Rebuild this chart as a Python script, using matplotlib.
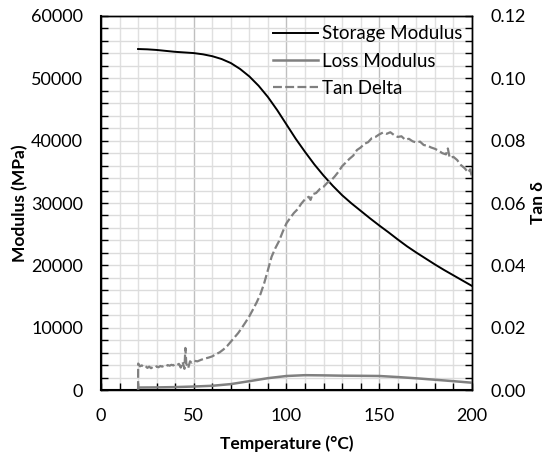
import numpy as np
import matplotlib
matplotlib.use("Agg")
import matplotlib.pyplot as plt
from matplotlib.ticker import MultipleLocator

plt.rcParams['font.family'] = ['Lato', 'DejaVu Sans']

# storage modulus (MPa)
t_storage = [20, 25, 30, 35, 40, 45, 50, 55, 60, 65, 70, 75, 80, 85, 90, 95, 100,
             105, 110, 115, 120, 125, 130, 135, 140, 145, 150, 155, 160, 165, 170,
             175, 180, 185, 190, 195, 200]
storage = [54700, 54650, 54550, 54400, 54250, 54150, 54050, 53850, 53550, 53100,
           52450, 51500, 50300, 48800, 47000, 44900, 42600, 40300, 38200, 36200,
           34400, 32750, 31250, 29950, 28750, 27550, 26400, 25300, 24150, 23050,
           22050, 21100, 20150, 19250, 18400, 17550, 16700]

# loss modulus (MPa)
t_loss = [20, 20.1, 30, 40, 50, 60, 70, 80, 90, 100, 110, 120, 130, 140, 150,
          160, 170, 180, 190, 200]
loss = [0, 400, 420, 470, 560, 680, 950, 1420, 1900, 2250, 2380, 2350, 2300,
        2280, 2250, 2080, 1880, 1650, 1420, 1170]

# tan delta
t_tan = [20, 20.05, 21, 22, 23, 24, 25, 26, 27, 28, 29, 30, 31, 32, 33, 34, 35,
         36, 37, 38, 39, 40, 41, 42, 43, 44, 45, 45.5, 46, 47, 48, 49, 50, 52, 54,
         56, 58, 60, 62, 64, 66, 68, 70, 72, 74, 76, 78, 80, 82, 84, 86, 88, 90,
         92, 94, 96, 98, 100, 102, 104, 106, 108, 110, 112, 113, 114, 116, 118,
         120, 122, 124, 126, 128, 130, 132, 134, 136, 138, 140, 142, 144, 146,
         148, 150, 152, 154, 156, 158, 160, 162, 164, 166, 168, 170, 172, 174,
         176, 178, 180, 182, 184, 186, 187, 188, 190, 192, 194, 196, 198, 199, 200]
tan_delta = [0.0, 0.0085, 0.0076, 0.0079, 0.0074, 0.0077, 0.0071, 0.0075, 0.0070,
             0.0074, 0.0072, 0.0076, 0.0073, 0.0077, 0.0075, 0.0078, 0.0076,
             0.0080, 0.0078, 0.0081, 0.0079, 0.0083, 0.0080, 0.0084, 0.0072,
             0.0090, 0.0068, 0.0135, 0.0085, 0.0070, 0.0092, 0.0088, 0.0094,
             0.0092, 0.0097, 0.0101, 0.0104, 0.0108, 0.0115, 0.0121, 0.0130,
             0.0141, 0.0155, 0.0169, 0.0183, 0.0200, 0.0218, 0.0237, 0.0259,
             0.0282, 0.0308, 0.0343, 0.0385, 0.0428, 0.0455, 0.0478, 0.0508,
             0.0535, 0.0552, 0.0568, 0.0580, 0.0598, 0.0612, 0.0620, 0.0610,
             0.0628, 0.0632, 0.0645, 0.0652, 0.0665, 0.0672, 0.0685, 0.0700,
             0.0718, 0.0730, 0.0742, 0.0752, 0.0770, 0.0778, 0.0790, 0.0795,
             0.0808, 0.0812, 0.0820, 0.0826, 0.0822, 0.0827, 0.0818, 0.0812,
             0.0814, 0.0803, 0.0806, 0.0798, 0.0794, 0.0797, 0.0786, 0.0784,
             0.0778, 0.0774, 0.0768, 0.0760, 0.0756, 0.0775, 0.0745, 0.0748,
             0.0738, 0.0722, 0.0712, 0.0698, 0.0708, 0.0684]

fig = plt.figure(figsize=(5.5, 4.62), dpi=100)
ax = fig.add_axes([0.1836, 0.1558, 0.6745, 0.8096])
ax2 = ax.twinx()

l1, = ax.plot(t_storage, storage, color='black', lw=1.4, label='Storage Modulus', zorder=3)
l2, = ax.plot(t_loss, loss, color='#808080', lw=1.8, label='Loss Modulus', zorder=3)
l3, = ax2.plot(t_tan, tan_delta, color='#808080', lw=1.6, ls=(0, (4, 1.5)), label='Tan Delta')

ax.set_xlim(0, 200)
ax.set_ylim(0, 60000)
ax2.set_ylim(0, 0.12)

ax.xaxis.set_major_locator(MultipleLocator(50))
ax.xaxis.set_minor_locator(MultipleLocator(10))
ax.yaxis.set_major_locator(MultipleLocator(10000))
ax.yaxis.set_minor_locator(MultipleLocator(2000))
ax2.yaxis.set_major_locator(MultipleLocator(0.02))
ax2.yaxis.set_minor_locator(MultipleLocator(0.004))
ax2.yaxis.set_major_formatter(plt.FuncFormatter(lambda v, p: f'{v:.2f}'))

ax.grid(True, which='major', axis='x', color='#bfbfbf', lw=1.0)
ax.grid(True, which='minor', axis='x', color='#e0e0e0', lw=1.0)
ax.grid(True, which='both', axis='y', color='#dcdcdc', lw=1.0)
ax.set_axisbelow(True)

for a in (ax, ax2):
    a.tick_params(which='both', direction='in', length=5, width=1, labelsize=13, pad=13)
    for s in a.spines.values():
        s.set_linewidth(1.0)
ax.spines['left'].set_linewidth(1.5)
ax.spines['bottom'].set_linewidth(1.5)
ax.tick_params(axis='y', which='both', right=False)

ax.set_xlabel('Temperature (°C)', fontsize=12.5, fontweight='bold', labelpad=8)
ax.set_ylabel('Modulus (MPa)', fontsize=12.5, fontweight='bold', labelpad=2)
ax2.set_ylabel('Tan δ', fontsize=12.5, fontweight='bold', labelpad=3,
               family=['Lato', 'DejaVu Sans'])

ax2.legend(handles=[l1, l2, l3], loc='upper right', frameon=False, fontsize=13.5,
           handlelength=2.4, handletextpad=0.2, borderaxespad=0.1, labelspacing=0.55)

fig.savefig('out.png', dpi=100)
